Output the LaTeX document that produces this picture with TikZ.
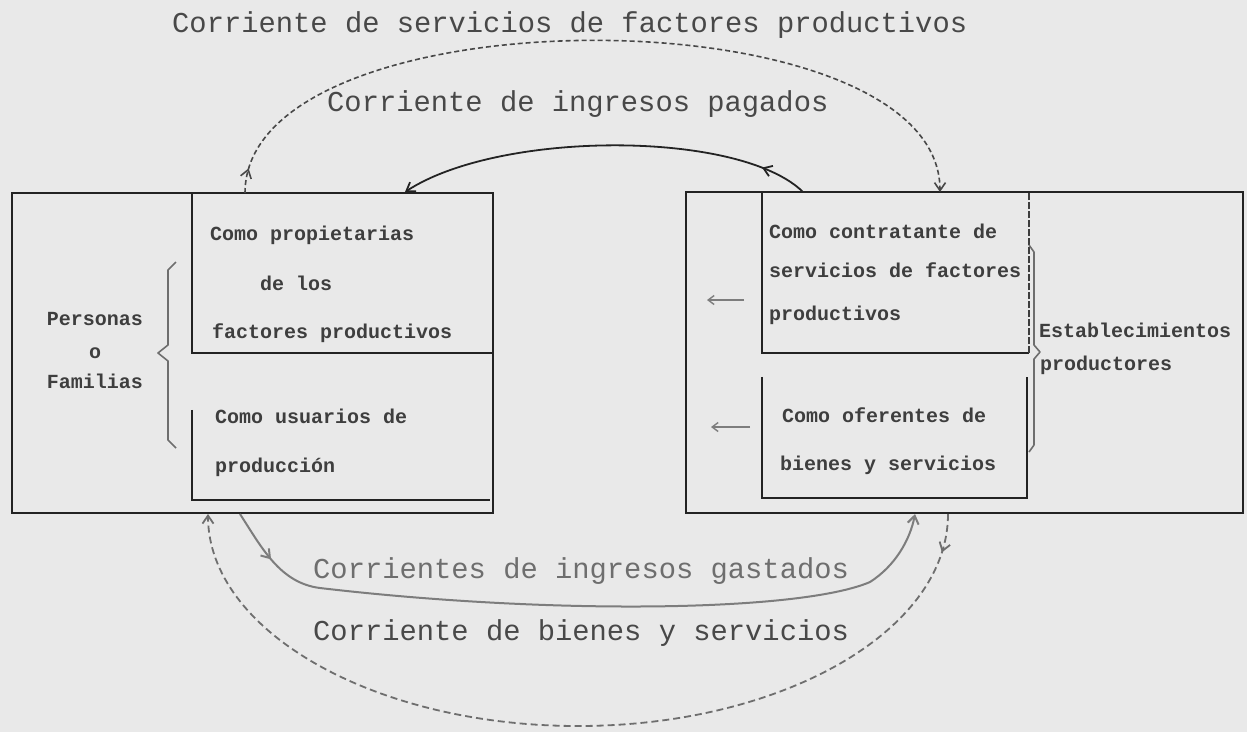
\documentclass[tikz,border=0pt]{standalone}
\usepackage{fontspec}
\setmainfont{Liberation Mono}
\usetikzlibrary{arrows.meta,decorations.markings}
\definecolor{paper}{RGB}{233,233,233}
\definecolor{ink}{RGB}{35,35,35}
\definecolor{boxink}{RGB}{62,62,62}
\definecolor{titleink}{RGB}{72,72,72}
\definecolor{lightink}{RGB}{110,110,110}
\definecolor{paleink}{RGB}{125,125,125}
\tikzset{
  barb/.tip={Straight Barb[length=8pt,width=11pt]},
  smallbarb/.tip={Straight Barb[length=6pt,width=9pt]},
}
\begin{document}
\begin{tikzpicture}[x=1pt,y=-1pt,
  boxline/.style={draw=ink,line width=2.4pt,inner sep=0pt},
  noframe/.style={draw=none,inner sep=0pt},
  innerline/.style={draw=ink,line width=2.1pt},
  flowlabel/.style={anchor=base west,inner sep=0pt,font=\fontsize{28.8}{30}\selectfont,text=titleink},
  boxtext/.style={anchor=base west,inner sep=0pt,font=\fontsize{20}{22}\selectfont\bfseries,text=boxink},
  sidetext/.style={anchor=base,inner sep=0pt,font=\fontsize{20}{22}\selectfont\bfseries,text=boxink},
  bracepath/.style={draw=lightink,line width=1.6pt,line join=round},
  smallarrow/.style={draw=paleink,line width=1.4pt,-{smallbarb}},
  midtip/.style={postaction={decorate},decoration={markings,mark=at position #1 with {\arrow{barb}}}},
  solidflow/.style={draw=ink,line width=1.8pt,-{barb}},
  grayflow/.style={draw=paleink,line width=2pt,-{barb}},
  dashtop/.style={draw=titleink,line width=1.6pt,dash pattern=on 5pt off 3pt,-{barb}},
  dashbottom/.style={draw=lightink,line width=1.8pt,dash pattern=on 7pt off 4pt,-{barb}},
]
\useasboundingbox (0,0) rectangle (1247,732);
\fill[paper] (0,0) rectangle (1247,732);

% --- left block: Personas o Familias ---
\node[boxline,minimum width=481pt,minimum height=320pt] (fam) at (252.5,353) {};
\node[noframe,minimum width=301pt,minimum height=160pt] (prop) at (342.5,273) {};
\node[noframe,minimum width=298pt,minimum height=90pt] (usu) at (341,455) {};
\draw[innerline] (prop.north west) -- (prop.south west) -- (prop.south east);
\draw[innerline] (usu.north west) -- (usu.south west) -- (usu.south east);

\node[sidetext] (pers) at (95,325) {Personas};
\node[sidetext] (oo) at (95,358) {o};
\node[sidetext] (fams) at (95,388) {Familias};

\draw[bracepath] (176,262) -- (168,270) -- (168,345) -- (158,353) -- (168,361) -- (168,440) -- (176,448);

\node[boxtext] (t1) at (210,240) {Como propietarias};
\node[boxtext] (t2) at (260,290) {de los};
\node[boxtext] (t3) at (212,338) {factores productivos};
\node[boxtext] (t4) at (215,423) {Como usuarios de};
\node[boxtext] (t5) at (215,472) {producción};

% --- right block: Establecimientos productores ---
\node[boxline,minimum width=557pt,minimum height=321pt] (est) at (964.5,352.5) {};
\node[noframe,minimum width=267pt,minimum height=161pt] (contr) at (895.5,272.5) {};
\node[noframe,minimum width=265pt,minimum height=121pt] (ofer) at (894.5,437.5) {};
\draw[innerline] (contr.north west) -- (contr.south west) -- (contr.south east);
\draw[draw=boxink,line width=1.5pt,dash pattern=on 7pt off 2pt] (contr.south east) -- (contr.north east);
\draw[innerline] (ofer.north west) -- (ofer.south west) -- (ofer.south east) -- (ofer.north east);

\draw[bracepath] (1029,245) -- (1034,252) -- (1034,345) -- (1040,352) -- (1034,359) -- (1034,445) -- (1029,452);

\node[boxtext] (r1) at (769,238) {Como contratante de};
\node[boxtext] (r2) at (769,277) {servicios de factores};
\node[boxtext] (r3) at (769,320) {productivos};
\node[boxtext] (r4) at (782,422) {Como oferentes de};
\node[boxtext] (r5) at (780,470) {bienes y servicios};
\node[boxtext] (r6) at (1039,337) {Establecimientos};
\node[boxtext] (r7) at (1040,370) {productores};

\coordinate (a1s) at (744,300);
\coordinate (a1e) at (707,300);
\coordinate (a2s) at (750,427);
\coordinate (a2e) at (711,427);
\draw[smallarrow] (a1s) -- (a1e);
\draw[smallarrow] (a2s) -- (a2e);

% --- flow labels ---
\node[flowlabel] (lserv) at (172,32) {Corriente de servicios de factores productivos};
\node[flowlabel] (lpag) at (327,111) {Corriente de ingresos pagados};
\node[flowlabel,text=lightink] (lgast) at (313,578) {Corrientes de ingresos gastados};
\node[flowlabel] (lbien) at (313,640) {Corriente de bienes y servicios};

% --- connector end points on the boxes ---
\coordinate (famTopA) at (245,193);
\coordinate (famTopB) at (405,192);
\coordinate (estTopA) at (803,192);
\coordinate (estTopB) at (940,192);
\coordinate (famBotA) at (208,514);
\coordinate (famBotB) at (240,514);
\coordinate (estBotA) at (915,514);
\coordinate (estBotB) at (948,514);

% services of factors: families -> firms
\draw[dashtop,midtip=25pt] (famTopA) .. controls (245,-10) and (940,-10) .. (estTopB);
% incomes paid: firms -> families
\draw[solidflow,midtip=48pt] (estTopA) .. controls (740,130) and (500,130) .. (famTopB);
% incomes spent: families -> firms
\draw[grayflow,midtip=55pt] (famBotB) .. controls (262,548) and (280,583) .. (320,588)
  .. controls (550,615) and (800,612) .. (870,582)
  .. controls (895,566) and (910,540) .. (estBotA);
% goods and services: firms -> families
\draw[dashbottom,midtip=39pt] (estBotB) .. controls (948,631) and (782,726) .. (578,726)
  .. controls (374,726) and (208,631) .. (famBotA);
\end{tikzpicture}
\end{document}
